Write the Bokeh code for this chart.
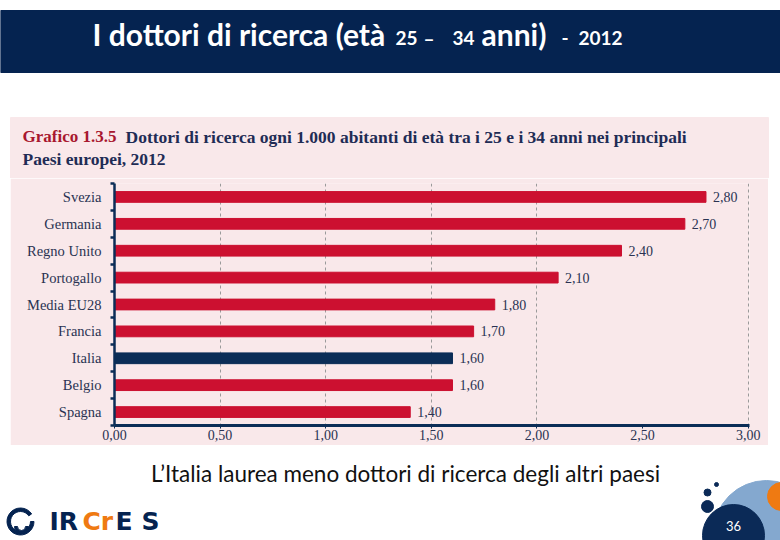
import numpy as np
from bokeh.plotting import figure
from bokeh.layouts import column, row
from bokeh.models import Range1d, FixedTicker, CustomJSTickFormatter, ColumnDataSource, Spacer
from bokeh.core.properties import value
from bokeh.embed import file_html
from bokeh.resources import INLINE

# ---- data ----
countries = ["Svezia", "Germania", "Regno Unito", "Portogallo", "Media EU28",
             "Francia", "Italia", "Belgio", "Spagna"]
values = [2.80, 2.70, 2.40, 2.10, 1.80, 1.70, 1.60, 1.60, 1.40]
highlight = "Italia"
x_ticks = [0.0, 0.5, 1.0, 1.5, 2.0, 2.5, 3.0]
grid_ticks = [0.5, 1.0, 1.5, 2.0, 3.0]

RED = "#cc1030"
NAVY = "#0b2d57"
HEAD = "#052350"
PINK = "#f9e8ea"
TXT = "#2a3352"
ORANGE = "#ef7a12"
SERIF = "Liberation Serif"

# page geometry (page pixel coords)
L, R = 0, 780
Y_TOP, Y_MID, Y_BOT, Y_END = 0, 178, 445, 540
PANEL_L, PANEL_R = 10, 768
FRAME_L, FRAME_R, FRAME_T, FRAME_B = 114, 748, 183, 425


def deco_fig(y0, y1, width=R - L):
    f = figure(width=width, height=y1 - y0, output_backend="svg", toolbar_location=None,
               x_range=Range1d(L, L + width), y_range=Range1d(y1, y0),
               x_axis_location=None, y_axis_location=None, min_border=0)
    f.grid.visible = False
    f.outline_line_color = None
    f.background_fill_color = "white"
    f.border_fill_color = "white"
    return f


def txt(f, s, x, y, size, color, font="Lato", style="normal", align="left"):
    f.text(x=[x], y=[y], text=[s], text_font=value(font), text_font_size=f"{size}px",
           text_color=color, text_font_style=style, text_align=align,
           text_baseline="middle")


# ---------- top: header + chart title ----------
top = deco_fig(Y_TOP, Y_MID)
top.quad(left=L, right=R, top=10, bottom=72, color=HEAD)
top.quad(left=PANEL_L, right=PANEL_R, top=117, bottom=Y_MID, color=PINK)
txt(top, "I dottori di ricerca (età", 92, 33, 30, "white", style="bold")
txt(top, "25", 395, 37.5, 19, "white", style="bold")
txt(top, "–", 423, 37.5, 19, "white", style="bold")
txt(top, "34", 452, 37.5, 19, "white", style="bold")
txt(top, "anni)", 481, 33, 30, "white", style="bold")
txt(top, "-", 561, 37.5, 19, "white", style="bold")
txt(top, "2012", 578, 37.5, 19, "white", style="bold")
txt(top, "Grafico 1.3.5", 22, 136, 17, "#a8172f", font=SERIF, style="bold")
txt(top, "Dottori di ricerca ogni 1.000 abitanti di età tra i 25 e i 34 anni nei principali",
    125, 136, 17.5, "#1f2c55", font=SERIF, style="bold")
txt(top, "Paesi europei, 2012", 22, 158, 17.5, "#1f2c55", font=SERIF, style="bold")

# ---------- middle: the bar chart ----------
idx = list(range(len(countries)))
colors = [NAVY if c == highlight else RED for c in countries]
labels = [f"{v:.2f}".replace(".", ",") for v in values]
src = ColumnDataSource(dict(y=idx, v=values, c=colors, lab=labels))

mid_w = PANEL_R - PANEL_L
p = figure(width=mid_w, height=Y_BOT - Y_MID, output_backend="svg", toolbar_location=None,
           x_range=Range1d(0, 3.006), y_range=Range1d(len(countries) - 0.5, -0.5),
           min_border_left=FRAME_L - PANEL_L, min_border_right=PANEL_R - FRAME_R - 1,
           min_border_top=FRAME_T - Y_MID, min_border_bottom=Y_BOT - FRAME_B)
p.outline_line_color = None
p.background_fill_color = PINK
p.border_fill_color = PINK

p.hbar(y="y", right="v", left=0, height=0.4, color="c", source=src)
p.text(x="v", y="y", text="lab", source=src, x_offset=7, text_baseline="middle",
       text_font=value(SERIF), text_font_size="14px", text_color=TXT)

xa = p.xaxis[0]
xa.ticker = FixedTicker(ticks=x_ticks)
xa.formatter = CustomJSTickFormatter(code="return tick.toFixed(2).replace('.', ',');")
xa.axis_line_color = NAVY
xa.axis_line_width = 3
xa.major_tick_line_color = NAVY
xa.major_tick_in = 0
xa.major_tick_out = 3
xa.minor_tick_line_color = None
xa.major_label_standoff = 1
xa.major_label_text_font = SERIF
xa.major_label_text_font_size = "14px"
xa.major_label_text_color = TXT

ya = p.yaxis[0]
ya.ticker = FixedTicker(ticks=idx, minor_ticks=[i - 0.5 for i in range(len(countries) + 1)])
ya.major_label_overrides = {i: c for i, c in zip(idx, countries)}
ya.axis_line_color = NAVY
ya.axis_line_width = 2.5
ya.major_tick_line_color = None
ya.major_tick_in = 0
ya.major_tick_out = 0
ya.minor_tick_line_color = NAVY
ya.minor_tick_line_width = 2.5
ya.minor_tick_in = 0
ya.minor_tick_out = 4
ya.major_label_standoff = 9
ya.major_label_text_font = SERIF
ya.major_label_text_font_size = "14.5px"
ya.major_label_text_color = TXT

p.ygrid.grid_line_color = None
p.xgrid.ticker = FixedTicker(ticks=grid_ticks)
p.xgrid.grid_line_color = "#9a9a9a"
p.xgrid.grid_line_dash = "3 3"
p.xgrid.grid_line_width = 1

middle = row(Spacer(width=PANEL_L - L, height=Y_BOT - Y_MID), p, spacing=0)

# ---------- bottom: caption, logo, page number ----------
bot = deco_fig(Y_BOT, Y_END)
txt(bot, "L’Italia laurea meno dottori di ricerca degli altri paesi", 405, 473, 22.5,
    "#111111", align="center")

circ_x = [766, 781, 733, 707, 707, 716]
circ_y = [533, 496, 535, 506, 492, 484]
circ_r = [53, 14, 31, 6, 3.5, 2]
circ_c = ["#84a8cf", ORANGE, "#0b2a57", "#0b2a57", "#0b2a57", "#0b2a57"]
bot.circle(x=circ_x, y=circ_y, radius=circ_r, color=circ_c)
txt(bot, "36", 733, 525, 13, "white", align="center")

# logo
bot.annular_wedge(x=[20], y=[521], inner_radius=10, outer_radius=13.5, start_angle=0.6,
                  end_angle=2 * np.pi, direction="anticlock", color=HEAD)
bot.annular_wedge(x=[21], y=[526], inner_radius=4, outer_radius=7, start_angle=np.pi,
                  end_angle=2 * np.pi, direction="anticlock", color=HEAD)
txt(bot, "IR", 49, 521, 25, HEAD, font="DejaVu Sans", style="bold")
txt(bot, "Cr", 82, 521, 25, ORANGE, font="DejaVu Sans", style="bold")
txt(bot, "E", 115, 521, 25, HEAD, font="DejaVu Sans", style="bold")
txt(bot, "S", 141, 521, 25, HEAD, font="DejaVu Sans", style="bold")

page = column(top, middle, bot, spacing=0)
open("out.html", "w").write(file_html(page, INLINE))
